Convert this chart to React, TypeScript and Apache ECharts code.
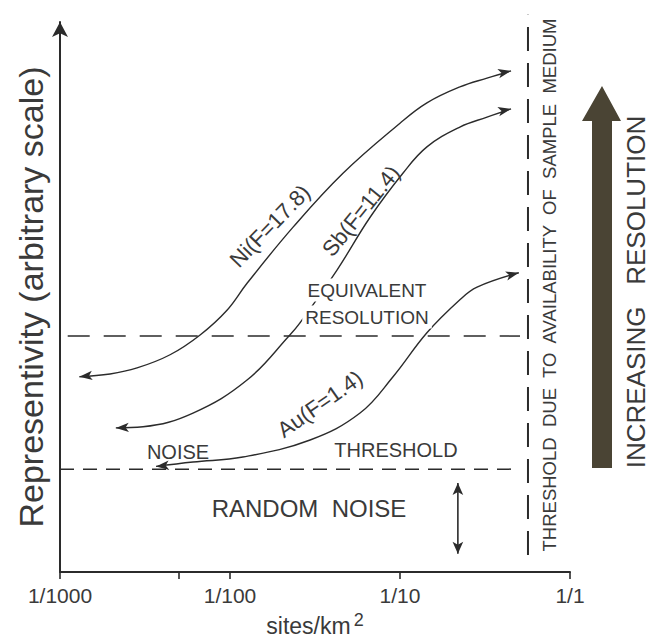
import React, { useEffect, useRef } from 'react';
import * as echarts from 'echarts';

// ---------- data (sites/km², representivity on an arbitrary 0–100 scale) ----------
const xTickValues = [0.001, 0.01, 0.1, 1];
const xTickLabels = ['1/1000', '1/100', '1/10', '1/1'];
const xMinorTick = [0.005];

const niCurve: [number, number][] = [
  [0.0013, 35.5], [0.00197, 36.0], [0.00284, 37.1], [0.00444, 39.5], [0.00667, 43.1],
  [0.0096, 47.6], [0.0126, 52.5], [0.0235, 62.7], [0.0462, 72.5], [0.1, 81.6],
  [0.144, 85.3], [0.225, 88.2], [0.325, 89.8], [0.45, 91.1],
];
const sbCurve: [number, number][] = [
  [0.00213, 26.2], [0.00308, 26.4], [0.00606, 28.9], [0.0126, 34.9], [0.0225, 43.1],
  [0.0258, 45.3], [0.0426, 54.9], [0.0667, 64.5], [0.104, 72.5], [0.144, 77.3],
  [0.225, 80.9], [0.325, 82.7], [0.45, 84.2],
];
const auCurve: [number, number][] = [
  [0.00367, 19.2], [0.00606, 20.0], [0.0119, 20.9], [0.0296, 24.0], [0.0582, 28.9],
  [0.091, 35.5], [0.144, 43.5], [0.225, 49.5], [0.284, 51.8], [0.5, 54.4],
];
const equivalentLine: [number, number][] = [[0.00111, 42.9], [0.508, 42.9]];
const noiseLine: [number, number][] = [[0.001, 18.7], [0.508, 18.7]];
const sampleLimitLine: [number, number][] = [[0.566, 3.1], [0.566, 101.3]];
const noiseRange: [number, number][] = [[0.219, 16.2], [0.219, 3.3]];

const INK = '#2b2b2b';
const TEXT = '#3a3a3a';
const FONT = "'Liberation Sans', Arial, Helvetica, sans-serif";

function curveSeries(name: string, pts: [number, number][], rotL: number, rotR: number) {
  return {
    type: 'line',
    name,
    smooth: 0.4,
    symbol: 'none',
    silent: true,
    z: 3,
    lineStyle: { color: INK, width: 1.4 },
    itemStyle: { color: INK },
    data: pts.map((p, i) => {
      if (i === 0) return { value: p, symbol: 'arrow', symbolSize: [7, 13], symbolRotate: rotL };
      if (i === pts.length - 1) return { value: p, symbol: 'arrow', symbolSize: [7, 13], symbolRotate: rotR };
      return { value: p, symbol: 'none' };
    }),
  };
}

function dashSeries(pts: [number, number][], dash: number[], width: number) {
  return {
    type: 'line',
    symbol: 'none',
    silent: true,
    clip: false,
    z: 2,
    lineStyle: { color: INK, width, type: dash },
    data: pts,
  };
}

const deg = (d: number) => (d * Math.PI) / 180;

function label(text: string, x: number, y: number, size: number, rot = 0, extra: any = {}) {
  return {
    type: 'text',
    x,
    y,
    rotation: deg(rot),
    z: 100,
    silent: true,
    style: {
      text,
      fill: TEXT,
      font: `${size}px ${FONT}`,
      align: 'center',
      verticalAlign: 'middle',
      ...extra,
    },
  };
}

export default function App() {
  const ref = useRef<HTMLDivElement>(null);
  useEffect(() => {
    const chart = echarts.init(ref.current!, null, { renderer: 'svg' });
    const option: any = {
      animation: false,
      backgroundColor: '#ffffff',
      textStyle: { fontFamily: FONT },
      grid: {
        left: 60,
        right: 80,
        top: 22,
        bottom: 66,
        containLabel: false,
        outerBoundsMode: 'none',
      },
      xAxis: {
        type: 'log',
        logBase: 10,
        min: 0.001,
        max: 1,
        name: '{b|sites/km}{sup|2}',
        nameLocation: 'middle',
        nameGap: 36,
        nameTextStyle: {
          color: TEXT,
          fontFamily: FONT,
          rich: {
            b: { fontSize: 23, color: TEXT, fontFamily: FONT, lineHeight: 26 },
            sup: { fontSize: 18, color: TEXT, fontFamily: FONT, padding: [0, 0, 12, 3] },
          },
        },
        axisLine: { show: true, lineStyle: { color: INK, width: 2 } },
        axisTick: {
          show: true,
          inside: false,
          length: 7,
          lineStyle: { color: INK, width: 1.6 },
          customValues: [...xTickValues, ...xMinorTick].sort((a, b) => a - b),
        },
        minorTick: { show: false },
        splitLine: { show: false },
        axisLabel: {
          color: TEXT,
          fontSize: 21,
          fontFamily: FONT,
          margin: 13,
          customValues: xTickValues,
          formatter: (v: number) => {
            const i = xTickValues.findIndex((t) => Math.abs(Math.log10(t) - Math.log10(v)) < 1e-6);
            return i >= 0 ? xTickLabels[i] : '';
          },
        },
      },
      yAxis: {
        type: 'value',
        min: 0,
        max: 100,
        name: 'Representivity (arbitrary scale)',
        nameLocation: 'middle',
        nameGap: 12,
        nameTextStyle: { color: TEXT, fontSize: 34, fontFamily: FONT },
        axisLine: {
          show: true,
          symbol: ['none', 'arrow'],
          symbolSize: [12, 15],
          lineStyle: { color: INK, width: 2 },
        },
        axisTick: { show: false },
        axisLabel: { show: false },
        splitLine: { show: false },
      },
      series: [
        curveSeries('Ni', niCurve, 96, -78),
        curveSeries('Sb', sbCurve, 92, -78),
        curveSeries('Au', auCurve, 95, -76),
        dashSeries(equivalentLine, [22, 14], 1.5),
        dashSeries(noiseLine, [14, 9], 1.5),
        dashSeries(sampleLimitLine, [24, 12], 2),
        {
          type: 'line',
          symbol: 'none',
          silent: true,
          z: 3,
          lineStyle: { color: INK, width: 1.6 },
          itemStyle: { color: INK },
          data: [
            { value: noiseRange[0], symbol: 'arrow', symbolSize: [8, 12], symbolRotate: 0 },
            { value: noiseRange[1], symbol: 'arrow', symbolSize: [8, 12], symbolRotate: 180 },
          ],
        },
      ],
      graphic: {
        elements: [
          label('Ni(F=17.8)', 270, 226, 22, 46),
          label('Sb(F=11.4)', 361, 211, 22, 51),
          label('Au(F=1.4)', 320, 404, 22, 35),
          label('EQUIVALENT', 367, 290, 19, 0, { backgroundColor: '#fff', padding: [2, 3] }),
          label('RESOLUTION', 367, 317, 19, 0, { backgroundColor: '#fff', padding: [2, 3] }),
          label('NOISE', 178, 452, 20),
          label('THRESHOLD', 396, 450, 20),
          label('RANDOM  NOISE', 309, 508, 24),
          label('THRESHOLD  DUE  TO  AVAILABILITY  OF  SAMPLE  MEDIUM', 549, 285, 18.5, 90),
          label('INCREASING   RESOLUTION', 636, 292, 26, 90),
          {
            type: 'polygon',
            z: 100,
            silent: true,
            shape: {
              points: [
                [592, 468], [612, 468], [612, 121], [621, 121], [602, 86], [582, 121], [592, 121],
              ],
            },
            style: { fill: '#4a4434' },
          },
        ],
      },
    };
    chart.setOption(option);
    return () => chart.dispose();
  }, []);
  return (
    <div
      ref={ref}
      style={{ position: 'fixed', left: 0, top: 0, width: 650, height: 638, background: '#fff' }}
    />
  );
}
